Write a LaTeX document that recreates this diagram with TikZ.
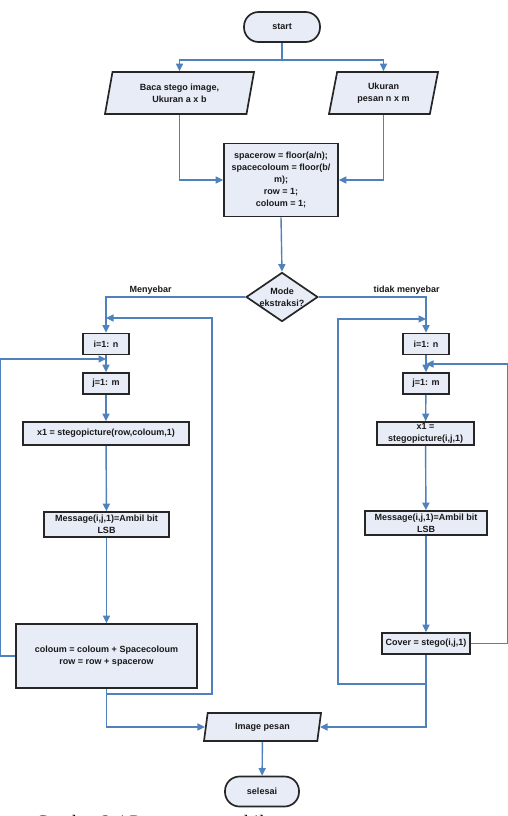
\documentclass[tikz,border=0pt]{standalone}
\usepackage{fontspec}
\setmainfont{Liberation Sans}
\newfontfamily\capfont{Liberation Serif}
\usetikzlibrary{shapes.geometric,arrows.meta}
\definecolor{boxfill}{RGB}{232,236,247}
\definecolor{linkblue}{RGB}{79,129,189}
\begin{document}
\begin{tikzpicture}[x=1pt,y=-1pt,
    every node/.style={font=\fontsize{9}{12}\selectfont\bfseries, align=center, text=black!90},
    terminal/.style={draw=black!85, fill=boxfill, line width=1.7pt, rounded corners=14.5pt,
        minimum width=#1, minimum height=30pt, inner sep=1pt},
    iobox/.style={trapezium, trapezium left angle=70, trapezium right angle=110,
        trapezium stretches body, draw=black!85, fill=boxfill, line width=1.7pt, inner sep=1pt},
    stepbox/.style={rectangle, draw=black!85, fill=boxfill, line width=1.7pt, inner sep=0.5pt},
    decision/.style={diamond, aspect=1.46, draw=black!85, fill=boxfill, line width=1.7pt, inner sep=0pt},
    link/.style={draw=linkblue, line width=1.4pt},
    flow/.style={link, -{Triangle[length=7.5pt,width=7pt]}},
    branch/.style={above=0pt, inner sep=1.5pt}]
    \clip (0,0) rectangle (508,816);

    \node[terminal=76pt] (start) at (282,27) {start};
    \node[iobox, minimum width=149pt, minimum height=42pt] (baca) at (179.5,93) {Baca stego image,\\Ukuran a x b};
    \node[iobox, minimum width=109pt, minimum height=42pt] (ukuran) at (383.5,93) {Ukuran\\pesan n x m};
    \node[stepbox, minimum width=114pt, minimum height=73pt] (init) at (281,180)
        {spacerow = floor(a/n);\\spacecoloum = floor(b/\\m);\\row = 1;\\coloum = 1;};
    \node[decision] (mode) at (282,297) {Mode\\ekstraksi?};

    % menyebar
    \node[stepbox, minimum width=46pt, minimum height=21pt] (iL) at (106,344) {i=1: n};
    \node[stepbox, minimum width=46pt, minimum height=21pt] (jL) at (106,383.5) {j=1: m};
    \node[stepbox, minimum width=166pt, minimum height=23pt] (x1L) at (106,433.5) {x1 = stegopicture(row,coloum,1)};
    \node[stepbox, minimum width=125pt, minimum height=25pt] (msgL) at (106.5,524.5) {Message(i,j,1)=Ambil bit\\LSB};
    \node[stepbox, minimum width=181pt, minimum height=64pt] (updL) at (106.5,656)
        {coloum = coloum + Spacecoloum\\row = row + spacerow};

    % tidak menyebar
    \node[stepbox, minimum width=46pt, minimum height=21pt] (iR) at (426,344) {i=1: n};
    \node[stepbox, minimum width=46pt, minimum height=21pt] (jR) at (426,383.5) {j=1: m};
    \node[stepbox, minimum width=97pt, minimum height=23pt, inner ysep=0pt] (x1R) at (425.5,433.5) {x1 =\\stegopicture(i,j,1)};
    \node[stepbox, minimum width=122pt, minimum height=24pt] (msgR) at (426,523) {Message(i,j,1)=Ambil bit\\LSB};
    \node[stepbox, minimum width=88pt, minimum height=21pt] (covR) at (426,643.5) {Cover = stego(i,j,1)};

    \node[iobox, minimum width=117pt, minimum height=28pt] (img) at (262.5,727) {Image pesan};
    \node[terminal=74pt] (sel) at (262,791.5) {selesai};

    \node[font=\capfont\fontsize{19}{22}\selectfont, anchor=base west, text=black] (caption) at (32,828)
        {Gambar 3.4 Proses pengambilan pesan};

    \coordinate (split) at (282,60);
    \coordinate (outL) at (106,694);
    \coordinate (inL) at (106,318);
    \coordinate (inJL) at (106,359);
    \coordinate (outR) at (426,684);
    \coordinate (inR) at (426,319);
    \coordinate (inJR) at (426,364);

    \draw[link] (start.south) -- (split);
    \draw[flow] (split) -| (baca.north);
    \draw[flow] (split) -| (ukuran.north);
    \draw[flow] (baca.south) |- (init.west);
    \draw[flow] (ukuran.south) |- (init.east);
    \draw[flow] (init.south) -- (mode.north);

    \draw[flow] (mode.west) -| node[branch, pos=0.34] {Menyebar} (iL.north);
    \draw[flow] (iL) -- (jL);
    \draw[flow] (jL) -- (x1L);
    \draw[flow] (x1L) -- (msgL);
    \draw[flow] (msgL) -- (updL);
    \draw[flow] (updL.south) |- (img.west);
    \draw[flow] (outL) -- ++(106,0) |- (inL);
    \draw[flow] (updL.west) -- ++(-15,0) |- (inJL);

    \draw[flow] (mode.east) -| node[branch, pos=0.41] {tidak menyebar} (iR.north);
    \draw[flow] (iR) -- (jR);
    \draw[flow] (jR) -- (x1R);
    \draw[flow] (x1R) -- (msgR);
    \draw[flow] (msgR) -- (covR);
    \draw[flow] (covR.south) |- (img.east);
    \draw[flow] (outR) -- ++(-88,0) |- (inR);
    \draw[flow] (covR.east) -- ++(37,0) |- (inJR);

    \draw[flow] (img) -- (sel);
\end{tikzpicture}
\end{document}
